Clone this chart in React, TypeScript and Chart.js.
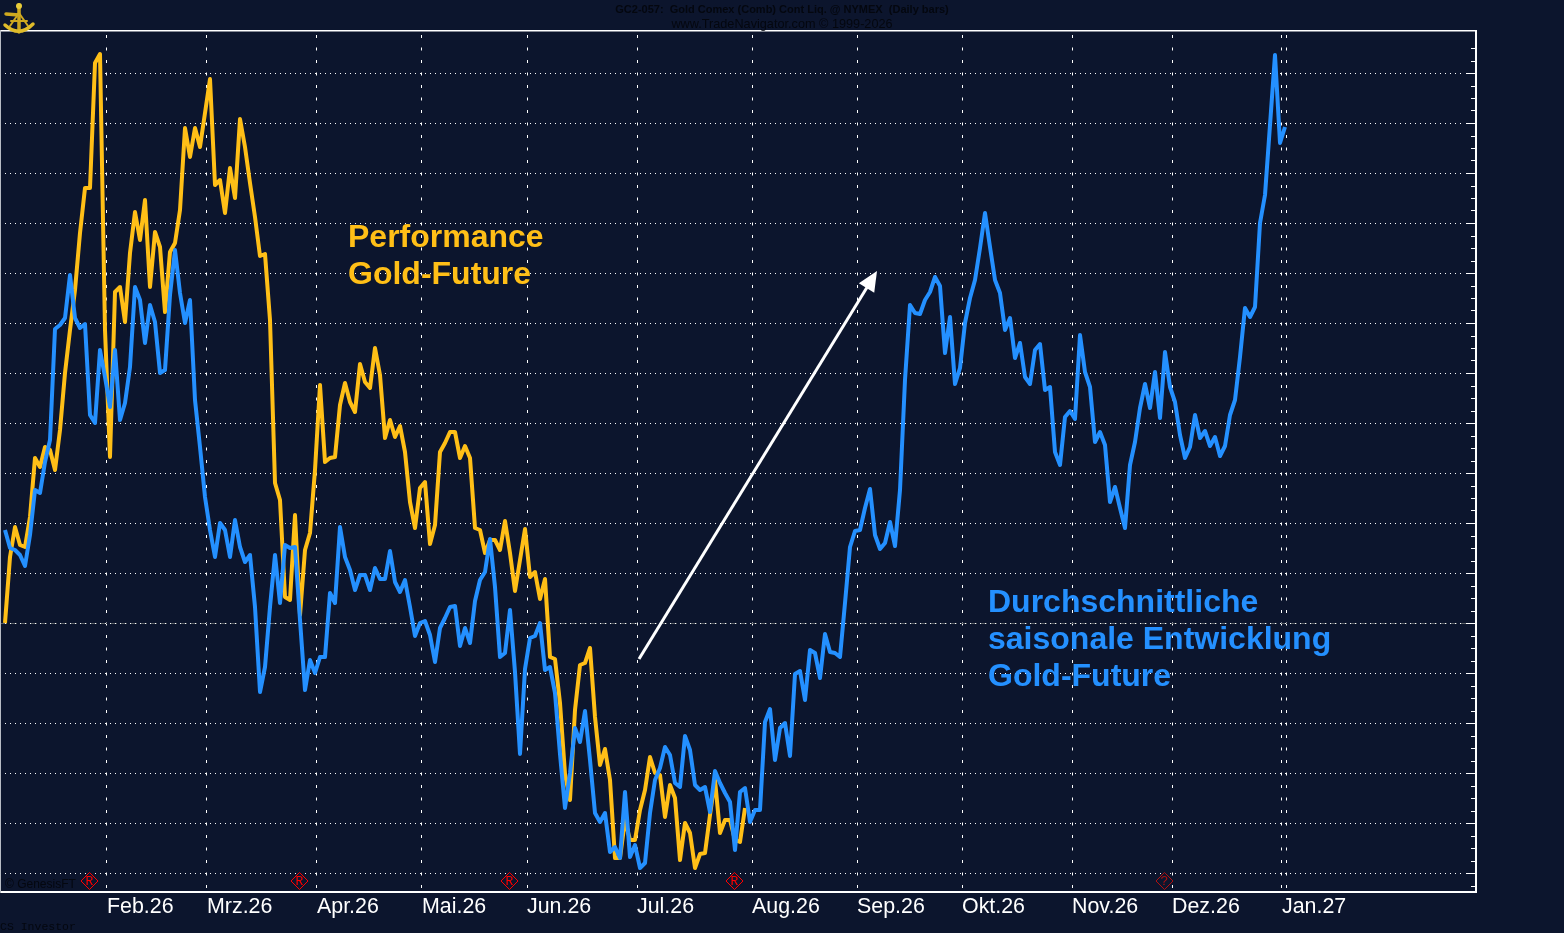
import React, { useEffect, useRef } from "react";
import { Chart, registerables } from "chart.js";

Chart.register(...registerables);

// Trading-day index = position in each series (no price labels are shown on the reference's axis)
const seasonal = [
  361,343,341,336,325,356,401,398,429,451,
  562,566,573,616,573,563,567,476,468,541,
  514,484,541,471,488,524,604,591,548,586,
  569,518,521,596,641,598,568,591,491,444,
  394,361,334,368,361,334,371,344,329,336,
  284,199,224,284,336,288,346,343,344,271,
  201,231,218,234,234,298,288,364,334,321,
  301,316,316,301,323,312,312,340,309,299,
  311,284,255,268,270,256,229,263,273,284,
  285,245,263,248,290,311,319,352,304,234,
  238,281,219,137,222,253,255,268,221,224,
  198,137,83,118,163,149,180,131,78,69,
  78,39,44,33,99,34,46,23,28,78,
  111,123,144,136,108,104,155,141,106,101,
  104,79,120,108,98,89,41,99,103,69,
  81,81,169,182,131,163,168,135,217,220,
  191,241,238,213,257,239,238,234,288,344,
  360,361,383,402,356,342,348,369,345,401,
  511,586,578,577,591,599,614,605,538,574,
  507,523,568,593,611,643,678,644,611,598,
  561,573,533,548,514,507,541,547,501,504,
  439,426,474,480,472,556,519,504,449,459,
  446,389,404,383,363,426,449,483,507,483,
  519,473,539,504,489,456,433,444,476,453,
  460,445,454,435,445,476,491,534,583,574,
  584,668,696,766,836,748,764,
];

const performance2026 = [
  268,334,364,346,344,374,433,424,444,441,
  421,461,518,561,601,658,703,703,828,837,
  561,434,599,604,569,638,679,651,691,604,
  659,644,579,639,648,681,763,734,763,744,
  778,812,706,711,678,723,693,772,744,708,
  674,635,637,571,408,391,294,291,376,276,
  341,358,421,506,429,433,434,486,508,489,
  479,527,509,503,543,516,453,471,454,465,
  439,389,363,403,409,347,366,439,448,459,
  459,433,445,433,363,361,338,351,351,341,
  370,338,300,331,362,314,319,292,312,234,
  232,188,117,91,181,226,228,243,174,126,
  142,111,33,33,71,51,51,81,101,134,
  118,116,74,106,93,31,68,58,23,37,
  38,76,111,58,71,71,51,49,83,
];

const monthLabels = ["Feb.26","Mrz.26","Apr.26","Mai.26","Jun.26","Jul.26","Aug.26","Sep.26","Okt.26","Nov.26","Dez.26","Jan.27",""];
const monthStarts = [20.4,40.4,62.4,83.4,104.4,126.4,149.4,170.4,191.4,213.4,233.4,255.4,256.4];
const majorLevels = [18,68,118,168,218,268,318,368,418,468,518,568,618,668,718,768,818];
const referenceLevel = 268;
const rolloverDays = [16.8,58.8,100.8,145.8];
const unknownDays = [231.8];
const arrowFrom = { day: 126.8, level: 232 };
const arrowTo = { day: 174.4, level: 620 };

const BG = "#0c152d";
const BLUE = "#2490ff";
const ORANGE = "#ffbf17";
const INK = "#04070f";

function drawDiamond(ctx: CanvasRenderingContext2D, x: number, y: number, label: string, color: string) {
  ctx.save();
  ctx.strokeStyle = color;
  ctx.lineWidth = 1;
  ctx.beginPath();
  ctx.moveTo(x + 0.5, y - 8.5);
  ctx.lineTo(x + 9, y);
  ctx.lineTo(x + 0.5, y + 8.5);
  ctx.lineTo(x - 8, y);
  ctx.closePath();
  ctx.stroke();
  ctx.fillStyle = color;
  ctx.font = '13px "Liberation Mono"';
  ctx.textAlign = "center";
  ctx.textBaseline = "middle";
  ctx.fillText(label, x + 0.5, y + 0.5);
  ctx.restore();
}

function drawLogo(ctx: CanvasRenderingContext2D) {
  ctx.save();
  ctx.lineCap = "round";
  ctx.strokeStyle = "#cfa91f";
  ctx.fillStyle = "#e8cc3a";
  ctx.lineWidth = 3.5;
  ctx.beginPath();
  ctx.moveTo(19, 5);
  ctx.lineTo(19, 32);
  ctx.moveTo(6, 14);
  ctx.lineTo(19, 15);
  ctx.stroke();
  ctx.lineWidth = 2;
  ctx.beginPath();
  ctx.moveTo(19, 13);
  ctx.lineTo(10, 26);
  ctx.moveTo(19, 13);
  ctx.lineTo(28, 26);
  ctx.moveTo(11, 21);
  ctx.lineTo(27, 21);
  ctx.stroke();
  ctx.lineWidth = 3.5;
  ctx.strokeStyle = "#e0bc2a";
  ctx.beginPath();
  ctx.moveTo(5, 25);
  ctx.quadraticCurveTo(19, 38, 33, 24);
  ctx.stroke();
  ctx.beginPath();
  ctx.arc(19, 6, 3, 0, Math.PI * 2);
  ctx.fill();
  ctx.restore();
}

const decorPlugin = {
  id: "decor",
  beforeDraw(chart: any) {
    const { ctx, width, height } = chart;
    ctx.save();
    ctx.fillStyle = BG;
    ctx.fillRect(0, 0, width, height);
    ctx.restore();
  },
  beforeDatasetsDraw(chart: any) {
    const { ctx, chartArea, scales } = chart;
    const y = scales.y;
    const tick = (level: number, from: number) => {
      const py = Math.round(y.getPixelForValue(level)) + 0.5;
      ctx.beginPath();
      ctx.moveTo(from, py);
      ctx.lineTo(chartArea.right, py);
      ctx.stroke();
    };
    ctx.save();
    ctx.lineWidth = 1;
    majorLevels.forEach((lv) => {
      const py = Math.round(y.getPixelForValue(lv)) + 0.5;
      if (lv === referenceLevel) {
        ctx.strokeStyle = "#5a6066";
        ctx.setLineDash([6, 4]);
        ctx.beginPath();
        ctx.moveTo(chartArea.left, py);
        ctx.lineTo(1466, py);
        ctx.stroke();
      }
      ctx.strokeStyle = "#ffffff";
      ctx.setLineDash([1, 4]);
      ctx.beginPath();
      ctx.moveTo(5, py);
      ctx.lineTo(1462, py);
      ctx.stroke();
      ctx.setLineDash([]);
      tick(lv, 1466);
      const steps = lv === majorLevels[majorLevels.length - 1] ? [1, 2] : [1, 2, 3];
      steps.forEach((k) => tick(lv + k * 12.5, 1471));
    });
    tick(majorLevels[0] - 12.5, 1471);
    ctx.restore();
  },
  afterDatasetsDraw(chart: any) {
    const { ctx, chartArea, scales } = chart;
    const { x, y } = scales;
    ctx.save();

    // frame
    ctx.fillStyle = "#ffffff";
    ctx.fillRect(0, 30, chartArea.right + 2, 1.5);
    ctx.fillRect(0, 891, chartArea.right + 2, 2);
    ctx.fillRect(chartArea.right, 30, 2, 863);
    ctx.fillStyle = "#b8bcc4";
    ctx.fillRect(0, 30, 1, 863);

    // header, footer
    ctx.fillStyle = INK;
    ctx.textBaseline = "middle";
    ctx.textAlign = "center";
    ctx.font = 'bold 11px "Liberation Sans"';
    ctx.fillText("GC2-057:  Gold Comex (Comb) Cont Liq. @ NYMEX  (Daily bars)", 782, 9.5);
    ctx.font = '12.7px "Liberation Sans"';
    ctx.fillText("www.TradeNavigator.com © 1999-2026", 782, 24);
    ctx.textAlign = "left";
    ctx.font = '12px "Liberation Sans"';
    ctx.fillText("© GenesisFT", 5, 885);
    ctx.font = '11.5px "Liberation Mono"';
    ctx.fillText("CS Investor", 0, 927);

    // annotations
    ctx.font = 'bold 32px "Liberation Sans"';
    ctx.fillStyle = ORANGE;
    ctx.fillText("Performance", 348, 238);
    ctx.fillText("Gold-Future", 348, 275);
    ctx.fillStyle = BLUE;
    ctx.fillText("Durchschnittliche", 988, 603);
    ctx.fillText("saisonale Entwicklung", 988, 640);
    ctx.fillText("Gold-Future", 988, 677);

    // arrow
    const ax0 = x.getPixelForValue(arrowFrom.day);
    const ay0 = y.getPixelForValue(arrowFrom.level);
    const ax1 = x.getPixelForValue(arrowTo.day);
    const ay1 = y.getPixelForValue(arrowTo.level);
    const ang = Math.atan2(ay1 - ay0, ax1 - ax0);
    ctx.strokeStyle = "#ffffff";
    ctx.lineWidth = 3;
    ctx.beginPath();
    ctx.moveTo(ax0, ay0);
    ctx.lineTo(ax1 - 14 * Math.cos(ang), ay1 - 14 * Math.sin(ang));
    ctx.stroke();
    ctx.fillStyle = "#ffffff";
    ctx.beginPath();
    ctx.moveTo(ax1, ay1);
    ctx.lineTo(ax1 - 20 * Math.cos(ang) + 9 * Math.sin(ang), ay1 - 20 * Math.sin(ang) - 9 * Math.cos(ang));
    ctx.lineTo(ax1 - 20 * Math.cos(ang) - 9 * Math.sin(ang), ay1 - 20 * Math.sin(ang) + 9 * Math.cos(ang));
    ctx.closePath();
    ctx.fill();

    // event markers
    rolloverDays.forEach((d) => drawDiamond(ctx, x.getPixelForValue(d), 881, "R", "#ff0000"));
    unknownDays.forEach((d) => drawDiamond(ctx, x.getPixelForValue(d), 881, "?", "#b01010"));

    drawLogo(ctx);
    ctx.restore();
  },
};

export default function App() {
  const ref = useRef<HTMLCanvasElement | null>(null);

  useEffect(() => {
    if (!ref.current) return;
    const chart = new Chart(ref.current, {
      type: "line",
      data: {
        labels: seasonal.map((_, i) => i),
        datasets: [
          {
            label: "Durchschnittliche saisonale Entwicklung Gold-Future",
            data: seasonal.map((v, i) => ({ x: i, y: v })),
            borderColor: BLUE,
            borderWidth: 4,
            pointRadius: 0,
            tension: 0,
            borderJoinStyle: "round",
          },
          {
            label: "Performance Gold-Future",
            data: performance2026.map((v, i) => ({ x: i, y: v })),
            borderColor: ORANGE,
            borderWidth: 4,
            pointRadius: 0,
            tension: 0,
            borderJoinStyle: "round",
          },
        ],
      },
      options: {
        animation: false,
        responsive: false,
        devicePixelRatio: 1,
        parsing: false,
        normalized: true,
        layout: { padding: { left: 1, right: 89, top: 31, bottom: 0 } },
        plugins: { legend: { display: false }, tooltip: { enabled: false }, title: { display: false } },
        scales: {
          x: {
            type: "linear",
            min: -0.8,
            max: 294,
            afterBuildTicks: (s: any) => {
              s.ticks = monthStarts.map((value) => ({ value }));
            },
            afterFit: (s: any) => {
              s.height = 42;
            },
            ticks: {
              autoSkip: false,
              maxRotation: 0,
              minRotation: 0,
              align: "start",
              color: "#ffffff",
              padding: 3,
              font: { family: "Liberation Sans", size: 21.4 },
              callback: (_: any, i: number) => monthLabels[i],
            },
            grid: { color: "#ffffff", lineWidth: 1, drawTicks: false, offset: false },
            border: { display: false, dash: [3, 9.5], dashOffset: 8.5 },
          },
          y: {
            type: "linear",
            display: false,
            min: 0,
            max: 860,
          },
        },
      } as any,
      plugins: [decorPlugin as any],
    });
    return () => chart.destroy();
  }, []);

  return (
    <canvas
      ref={ref}
      width={1564}
      height={933}
      style={{ position: "fixed", left: 0, top: 0, width: 1564, height: 933, display: "block" }}
    />
  );
}
